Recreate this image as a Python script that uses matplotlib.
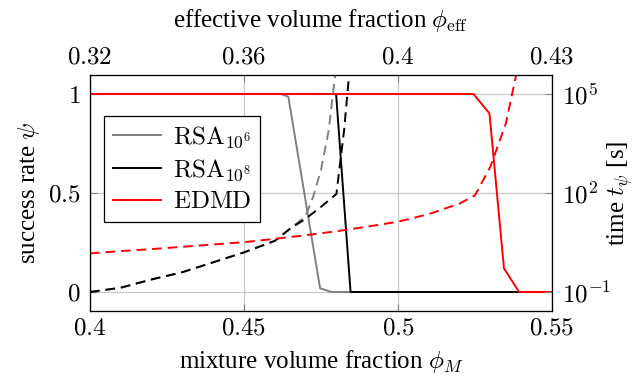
import matplotlib
matplotlib.use("Agg")
import matplotlib.pyplot as plt
import numpy as np

plt.rcParams["font.family"] = "serif"
plt.rcParams["font.serif"] = ["Liberation Serif", "DejaVu Serif"]
plt.rcParams["mathtext.fontset"] = "cm"
plt.rcParams["font.size"] = 18

# success rate psi vs mixture volume fraction
rsa6_x = [0.40, 0.462, 0.4644, 0.4747, 0.4784, 0.55]
rsa6_psi = [1.0, 1.0, 0.986, 0.019, 0.0, 0.0]
rsa8_x = [0.40, 0.4799, 0.4846, 0.55]
rsa8_psi = [1.0, 1.0, 0.0, 0.0]
edmd_x = [0.40, 0.5245, 0.5297, 0.5344, 0.5393, 0.55]
edmd_psi = [1.0, 1.0, 0.902, 0.12, 0.0, 0.0]

# time t_psi (log10 of seconds)
rsa6_tx = [0.40, 0.41, 0.42, 0.43, 0.44, 0.45, 0.46, 0.465, 0.47, 0.4725, 0.475, 0.4775, 0.48]
rsa6_logt = [-1.0, -0.87, -0.62, -0.40, -0.10, 0.20, 0.55, 0.92, 1.30, 1.90, 2.70, 3.90, 5.90]
rsa8_tx = [0.40, 0.41, 0.42, 0.43, 0.44, 0.45, 0.46, 0.465, 0.47, 0.475, 0.48, 0.4825, 0.485]
rsa8_logt = [-1.0, -0.87, -0.62, -0.40, -0.10, 0.20, 0.55, 0.92, 1.22, 1.58, 1.97, 3.90, 6.50]
edmd_tx = [0.40, 0.41, 0.42, 0.43, 0.44, 0.45, 0.46, 0.47, 0.48, 0.49, 0.50, 0.51, 0.52, 0.525, 0.53, 0.535, 0.54]
edmd_logt = [0.17, 0.24, 0.30, 0.37, 0.44, 0.51, 0.61, 0.72, 0.84, 0.98, 1.13, 1.36, 1.68, 1.93, 2.80, 4.10, 6.30]

bottom_ticks = [0.40, 0.45, 0.50, 0.55]
bottom_labels = ["$0.4$", "$0.45$", "$0.5$", "$0.55$"]
top_labels = ["$0.32$", "$0.36$", "$0.4$", "$0.43$"]
left_ticks = [0, 0.5, 1]
left_labels = ["$0$", "$0.5$", "$1$"]
right_ticks = [1e-1, 1e2, 1e5]
right_labels = ["$10^{-1}$", "$10^{2}$", "$10^{5}$"]

fig = plt.figure(figsize=(6.36, 3.81), dpi=100)
ax = fig.add_axes([90 / 636, 1 - 311 / 381, 462 / 636, 236 / 381])
ax2 = ax.twinx()
ax3 = ax.twiny()

grid_col = "#c8c8c8"
for xv in bottom_ticks:
    ax.axvline(xv, color=grid_col, lw=0.9, zorder=0)
for yv in left_ticks:
    ax.axhline(yv, color=grid_col, lw=0.9, zorder=0)

lw = 1.4
l1, = ax.plot(rsa6_x, rsa6_psi, color="#808080", lw=lw, label=r"$\mathrm{RSA}_{10^6}$")
l2, = ax.plot(rsa8_x, rsa8_psi, color="black", lw=lw, label=r"$\mathrm{RSA}_{10^8}$")
l3, = ax.plot(edmd_x, edmd_psi, color="#ff0000", lw=lw, label=r"$\mathrm{EDMD}$")

dash = (0, (5, 3))
ax2.plot(rsa6_tx, 10 ** np.array(rsa6_logt), color="#808080", lw=lw, ls=dash)
ax2.plot(rsa8_tx, 10 ** np.array(rsa8_logt), color="black", lw=lw, ls=dash)
ax2.plot(edmd_tx, 10 ** np.array(edmd_logt), color="#ff0000", lw=lw, ls=dash)

ax.set_xlim(0.4, 0.55)
ax.set_ylim(-0.096, 1.096)
ax2.set_yscale("log")
ax2.set_ylim(10 ** -1.576, 10 ** 5.576)
ax3.set_xlim(0.4, 0.55)

ax.set_xticks(bottom_ticks)
ax.set_xticklabels(bottom_labels)
ax.set_yticks(left_ticks)
ax.set_yticklabels(left_labels)
ax2.set_yticks(right_ticks)
ax2.set_yticklabels(right_labels)
ax2.yaxis.set_minor_locator(matplotlib.ticker.NullLocator())
ax3.set_xticks(bottom_ticks)
ax3.set_xticklabels(top_labels)

ax.tick_params(axis="x", direction="in", length=5, width=0.8, color="#808080", labelsize=18, pad=5)
ax.tick_params(axis="y", direction="in", length=5, width=0.8, color="#808080", labelsize=18, pad=7)
ax2.tick_params(axis="y", direction="in", length=5, width=0.8, color="#808080", labelsize=18, pad=7)
ax3.tick_params(axis="x", direction="in", length=5, width=0.8, color="#808080", labelsize=18, pad=5)

ax.set_xlabel(r"mixture volume fraction $\phi_M$", labelpad=6)
ax.set_ylabel(r"success rate $\psi$", labelpad=4)
ax2.set_ylabel(r"time $t_\psi$ [s]", labelpad=-4)
ax3.set_xlabel(r"effective volume fraction $\phi_{\mathrm{eff}}$", labelpad=14)

leg = ax2.legend(handles=[l1, l2, l3], loc="upper left", bbox_to_anchor=(0.031, 0.826),
                 fancybox=False, edgecolor="black", framealpha=1, fontsize=18,
                 handlelength=1.9, borderpad=0.35, labelspacing=0.3, handletextpad=0.5,
                 borderaxespad=0)
leg.get_frame().set_linewidth(0.9)

fig.savefig("out.png", dpi=100)
